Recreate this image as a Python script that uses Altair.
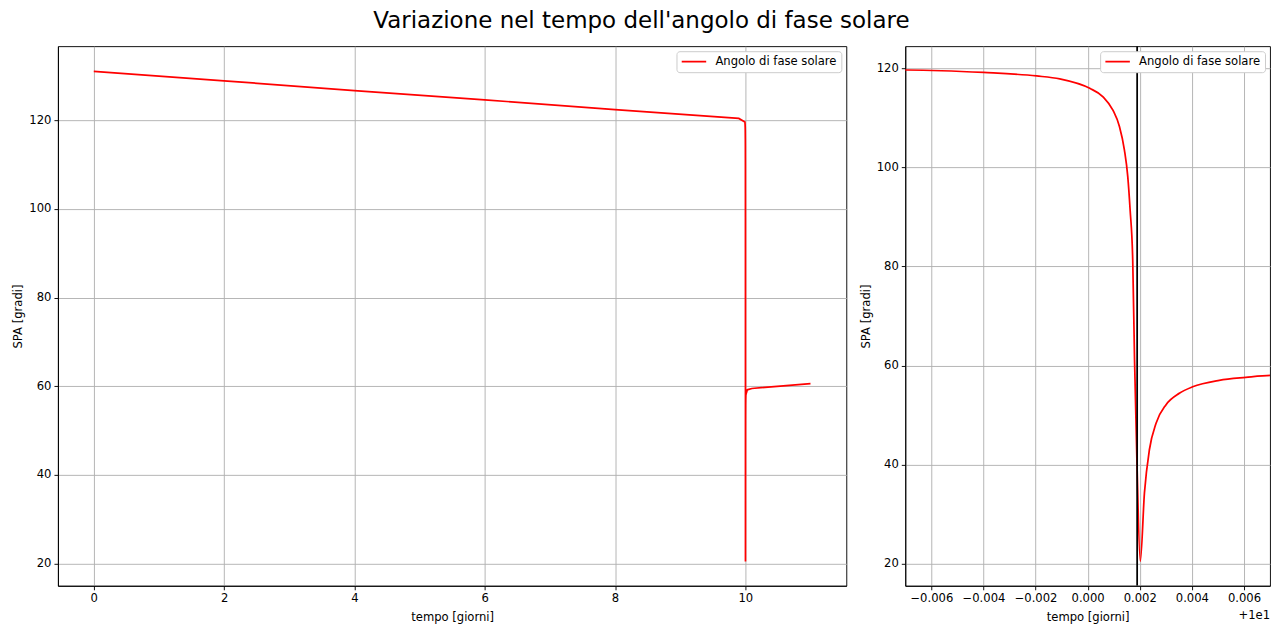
import altair as alt
import pandas as pd

# ---- data ----
tempo = [0, 2, 4, 6, 8, 9.9,
         9.99307, 9.996, 9.99804, 9.99893, 10.00008, 10.00059, 10.00097,
         10.00122, 10.00141, 10.00154, 10.00163, 10.00173, 10.0018, 10.00189,
         10.00202, 10.00218, 10.00237, 10.00263, 10.00301, 10.00352, 10.00403,
         10.00505, 10.00607, 10.00702,
         10.03, 10.1, 11]
spa = [131.0, 128.9, 126.7, 124.6, 122.4, 120.4,
       119.6, 119.1, 118.4, 117.8, 115.9, 114.2, 111.5,
       108.2, 103.5, 98.1, 91.4, 81.3, 61.1, 41.0,
       20.5, 34.3, 43.0, 48.4, 52.1, 54.4, 55.7,
       57.0, 57.6, 58.0,
       59.2, 59.5, 60.6]
serie = "Angolo di fase solare"
linea_verticale = [10.0019]

left_xticks = [0, 2, 4, 6, 8, 10]
yticks = [20, 40, 60, 80, 100, 120]
right_xticks = [9.994, 9.996, 9.998, 10.0, 10.002, 10.004, 10.006]
offset_text = "+1e1"

title = "Variazione nel tempo dell'angolo di fase solare"
x_title = "tempo [giorni]"
y_title = "SPA [gradi]"

df = pd.DataFrame({"t": tempo, "spa": spa, "serie": serie})

FONT = "DejaVu Sans"
FS = 11.6
color_scale = alt.Scale(domain=[serie], range=["#ff0000"])
legend = alt.Legend(title=None, orient="top-right", offset=5)

left = alt.Chart(df).mark_line(strokeWidth=1.74).encode(
    x=alt.X("t:Q", title=x_title,
            scale=alt.Scale(domain=[-0.55, 11.55], nice=False, zero=False),
            axis=alt.Axis(values=left_xticks, format="d")),
    y=alt.Y("spa:Q", title=y_title,
            scale=alt.Scale(domain=[15.0, 136.7], nice=False, zero=False),
            axis=alt.Axis(values=yticks)),
    color=alt.Color("serie:N", scale=color_scale, legend=legend),
    order="t:Q",
).properties(width=789, height=540)

line_r = alt.Chart(df).mark_line(strokeWidth=1.74, clip=True, interpolate="monotone").encode(
    x=alt.X("t:Q", title=x_title,
            scale=alt.Scale(domain=[9.993, 10.007], nice=False, zero=False),
            axis=alt.Axis(values=right_xticks,
                          labelExpr="replace(format(datum.value - 10, '.3f'), '-', '\u2212')")),
    y=alt.Y("spa:Q", title=y_title,
            scale=alt.Scale(domain=[15.56, 124.4], nice=False, zero=False),
            axis=alt.Axis(values=yticks)),
    color=alt.Color("serie:N", scale=color_scale, legend=legend),
    order="t:Q",
)
rule_r = alt.Chart(pd.DataFrame({"t": linea_verticale})).mark_rule(
    color="black", strokeWidth=1.74, clip=True).encode(x="t:Q")
off_r = alt.Chart(pd.DataFrame({"s": [offset_text]})).mark_text(
    align="right", baseline="middle", fontSize=FS, font=FONT, color="black").encode(
    x=alt.value(365), y=alt.value(570), text="s:N")

right = alt.layer(line_r, rule_r, off_r).properties(width=365, height=540)

chart = alt.hconcat(left, right, spacing=12).resolve_scale(color="independent").resolve_legend(
    color="independent").properties(
    title=alt.TitleParams(text=title, fontSize=23, font=FONT, fontWeight="normal",
                          anchor="middle", color="black", offset=13),
    padding={"left": 12, "top": 9, "right": 8, "bottom": 0},
).configure_view(stroke="black", strokeWidth=0.93).configure_axis(
    labelFont=FONT, labelFontSize=FS, labelColor="black",
    titleFont=FONT, titleFontSize=FS, titleColor="black", titleFontWeight="normal",
    tickColor="black", tickSize=4, tickWidth=0.93, labelPadding=3,
    domainColor="black", domainWidth=0.93,
    gridColor="#b0b0b0", gridWidth=0.93, gridOpacity=1, titlePadding=5,
).configure_axisX(titlePadding=7).configure_legend(
    labelFont=FONT, labelFontSize=FS, labelColor="black",
    symbolType="stroke", symbolSize=600, symbolStrokeWidth=1.74, clipHeight=13,
    padding=4, labelOffset=8, strokeColor="#cccccc", fillColor="white",
    cornerRadius=3,
)

chart.save("out.html", embed_options={"renderer": "svg", "actions": False})
